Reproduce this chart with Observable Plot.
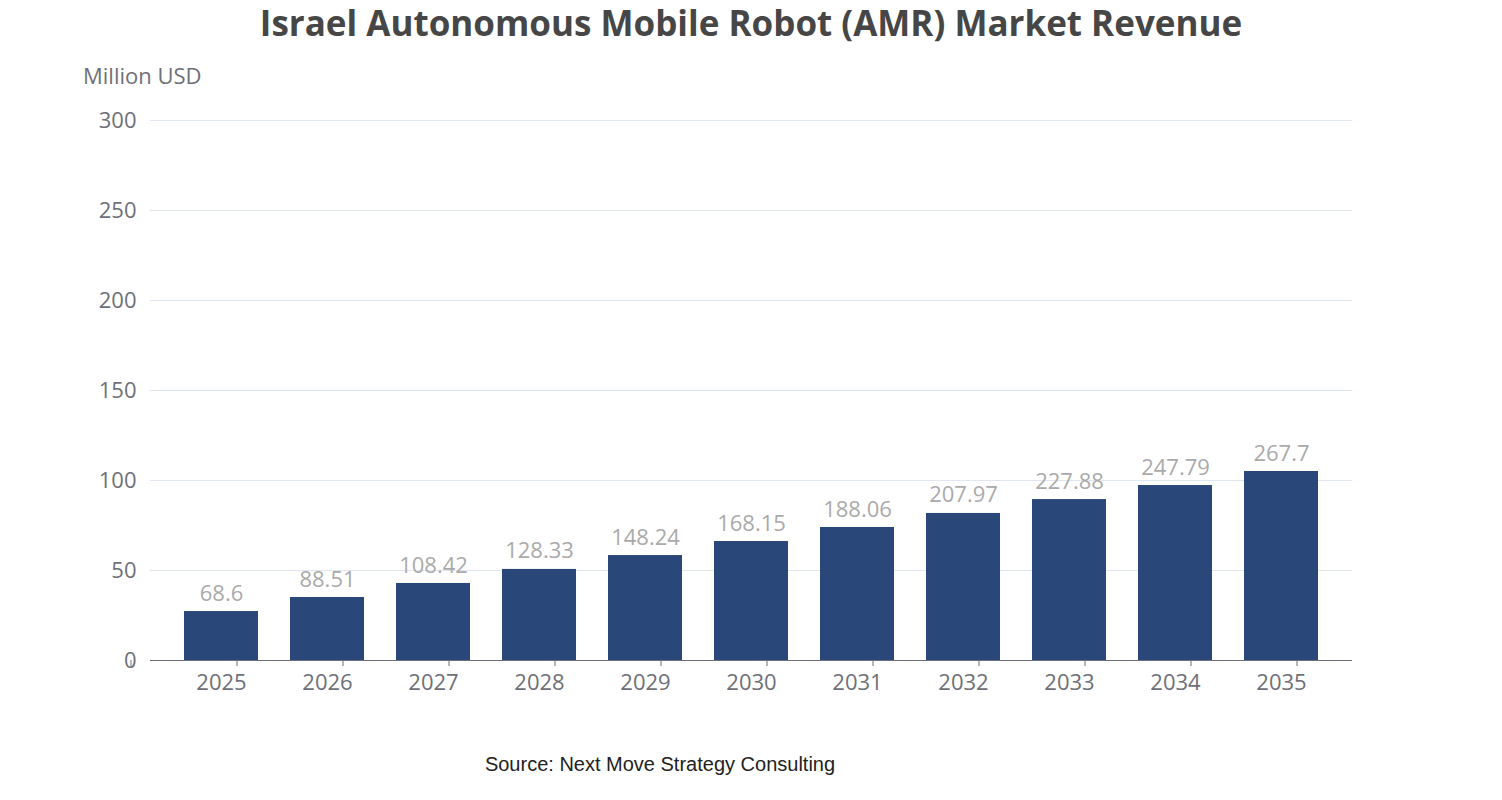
<!DOCTYPE html>
<html><head><meta charset="utf-8">
<script src="https://cdn.jsdelivr.net/npm/d3@7"></script>
<script src="https://cdn.jsdelivr.net/npm/@observablehq/plot@0.6"></script>
<style>
body{margin:0;background:#fff;font-family:"Open Sans",sans-serif;}
#wrap{position:relative;width:1502px;height:800px;}
#title{position:absolute;top:0;left:0;width:1502px;text-align:center;font:bold 35px "Open Sans",sans-serif;color:#464646;line-height:46px;}
#unit{position:absolute;left:83px;top:60px;font-size:22px;color:#6e7079;}
#src{position:absolute;top:753px;left:0;width:1320px;text-align:center;font:20px "Liberation Sans",Arial,sans-serif;color:#222;}
</style></head><body>
<div id="wrap">
<div id="title">Israel Autonomous Mobile Robot (AMR) Market Revenue</div>
<div id="unit">Million USD</div>
<div id="chart"></div>
<div id="src">Source: Next Move Strategy Consulting</div>
</div>
<script>
const years = ["2025","2026","2027","2028","2029","2030","2031","2032","2033","2034","2035"];
const labels = ["68.6","88.51","108.42","128.33","148.24","168.15","188.06","207.97","227.88","247.79","267.7"];
// bar heights as drawn in the reference (in axis units)
const heights = [27.2,35,42.8,50.6,58.3,66.1,73.9,81.7,89.4,97.2,105];
const yTicks = [0,50,100,150,200,250,300];
const data = years.map((y,i)=>({year:y,h:heights[i],label:labels[i]}));
const plot = Plot.plot({
  width:1502, height:800,
  marginTop:120, marginBottom:140, marginLeft:150, marginRight:150,
  style:{fontFamily:"Open Sans, sans-serif", fontSize:"22px", color:"#6e7079", background:"#fff"},
  x:{domain:years, padding:0.3, label:null},
  y:{domain:[0,300], label:null},
  marks:[
    Plot.gridY(yTicks,{stroke:"#e0e6f1", strokeOpacity:1}),
    Plot.barY(data,{x:"year", y:"h", fill:"#2a477a"}),
    Plot.text(data,{x:"year", y:"h", text:"label", dy:-18, fill:"#aaaaaa", fontSize:22}),
    Plot.ruleY([0],{stroke:"#6e7079"}),
    Plot.axisY({ticks:yTicks, tickSize:0, tickPadding:14, fill:"#6e7079", fontSize:22}),
    Plot.axisX({tickSize:0, tickPadding:14, fill:"#6e7079", fontSize:22}),
    Plot.tickX(d3.range(years.length+1),{x:i=>i, y:0, dy:0})
  ].slice(0,6)
});
document.getElementById("chart").appendChild(plot);
// boundary ticks between bands on x axis
const svg = d3.select(plot);
const x = plot.scale("x");
const bw = x.step;
const y0 = 680 - 20;
const xs = years.map(y=>x.apply(y)-x.bandwidth/2 - (bw-x.bandwidth)/2);
xs.push(xs[xs.length-1]+bw);
svg.append("g").selectAll("line").data(xs).join("line")
  .attr("x1",d=>d).attr("x2",d=>d).attr("y1",y0).attr("y2",y0+6).attr("stroke","#6e7079");
</script>
</body></html>
